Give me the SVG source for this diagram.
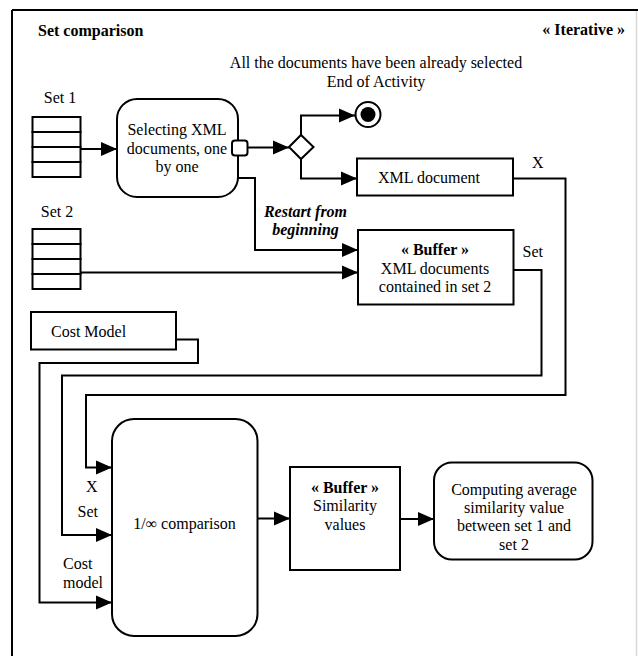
<svg xmlns="http://www.w3.org/2000/svg" width="638" height="656" viewBox="0 0 638 656">
<defs>
<style>
text{font-family:"Liberation Serif","Times New Roman",serif;font-size:16px;fill:#000}
.b{font-weight:bold}
.bi{font-weight:bold;font-style:italic}
.m{text-anchor:middle}
.box{fill:#fff;stroke:#000;stroke-width:2}
.stk{fill:#fff;stroke:#000;stroke-width:2}
.con{fill:none;stroke:#000;stroke-width:2}
</style>
<marker id="arr" markerUnits="userSpaceOnUse" markerWidth="17" markerHeight="16" refX="16" refY="8" orient="auto">
<path d="M0,1 L16,8 L0,15 z" fill="#000"/>
</marker>
</defs>
<rect x="0" y="0" width="638" height="656" fill="#fff"/>
<g id="frame">
<path d="M12,10 H638 M12,10 V656" fill="none" stroke="#000" stroke-width="2"/>
<line x1="636.5" y1="11" x2="636.5" y2="656" stroke="#d8d8d8" stroke-width="1.5"/>
<text class="b" x="38" y="36">Set comparison</text>
<text class="b" x="625" y="35" text-anchor="end">« Iterative »</text>
</g>
<g id="connectors">
<path class="con" d="M80.5,149 H117" marker-end="url(#arr)"/>
<path class="con" d="M247.5,147.5 H289" marker-end="url(#arr)"/>
<path class="con" d="M301,135 V115.5 H355" marker-end="url(#arr)"/>
<path class="con" d="M301,159 V178.5 H357" marker-end="url(#arr)"/>
<path class="con" d="M513,178.5 H565.5 V395 H86 V467.5 H112" marker-end="url(#arr)"/>
<path class="con" d="M238,178 H255 V250 H358" marker-end="url(#arr)"/>
<path class="con" d="M80.5,272.5 H358" stroke-width="1.6" marker-end="url(#arr)"/>
<path class="con" d="M513.5,270 H541.5 V375.5 H62 V535 H112" marker-end="url(#arr)"/>
<path class="con" d="M176,339.5 H198 V363 H39.5 V602.5 H112" marker-end="url(#arr)"/>
<path class="con" d="M257.5,518.5 H290" marker-end="url(#arr)"/>
<path class="con" d="M400,519 H434" marker-end="url(#arr)"/>
<text class="bi m" x="305.5" y="216.5">Restart from</text>
<text class="bi m" x="305.5" y="235">beginning</text>
<text x="532" y="168">X</text>
<text x="522.5" y="256.5">Set</text>
<text x="86" y="491.5">X</text>
<text x="77.5" y="517">Set</text>
<text x="63" y="569">Cost</text>
<text x="63" y="588">model</text>
</g>
<g id="set1">
<text class="m" x="60" y="103">Set 1</text>
<rect class="stk" x="32.5" y="117" width="48" height="15"/>
<rect class="stk" x="32.5" y="132" width="48" height="15"/>
<rect class="stk" x="32.5" y="147" width="48" height="15"/>
<rect class="stk" x="32.5" y="162" width="48" height="15"/>
</g>
<g id="selecting">
<rect class="box" x="117" y="99" width="121" height="98" rx="20"/>
<text class="m" x="177" y="135">Selecting XML</text>
<text class="m" x="177" y="153.5">documents, one</text>
<text class="m" x="177" y="172">by one</text>
<rect class="box" x="232" y="140.5" width="15.5" height="15" rx="3"/>
</g>
<g id="decision">
<polygon class="box" points="289,147 301,135 313.5,147 301,159"/>
</g>
<g id="end">
<text class="m" x="376" y="68">All the documents have been already selected</text>
<text class="m" x="376" y="87">End of Activity</text>
<circle cx="368" cy="114.5" r="12.5" fill="#fff" stroke="#000" stroke-width="2"/>
<circle cx="368" cy="114.5" r="7.5" fill="#000"/>
</g>
<g id="xmldoc">
<rect class="box" x="357" y="158.5" width="156" height="37"/>
<text class="m" x="429" y="182.5">XML document</text>
</g>
<g id="set2">
<text class="m" x="57" y="217">Set 2</text>
<rect class="stk" x="32.5" y="229" width="48" height="15"/>
<rect class="stk" x="32.5" y="244" width="48" height="15"/>
<rect class="stk" x="32.5" y="259" width="48" height="15"/>
<rect class="stk" x="32.5" y="274" width="48" height="15"/>
</g>
<g id="buffer-set2">
<rect class="box" x="358" y="230" width="155.5" height="74.5"/>
<text class="b m" x="435" y="255">« Buffer »</text>
<text class="m" x="435" y="274">XML documents</text>
<text class="m" x="435" y="292">contained in set 2</text>
</g>
<g id="costmodel">
<rect class="box" x="31" y="312" width="145" height="37.5"/>
<text x="51" y="337">Cost Model</text>
</g>
<g id="comparison">
<rect class="box" x="112" y="419" width="145.5" height="217" rx="22"/>
<text class="m" x="184.5" y="529">1/∞ comparison</text>
</g>
<g id="buffer-sim">
<rect class="box" x="290" y="467" width="110" height="103"/>
<text class="b m" x="345" y="492.5">« Buffer »</text>
<text class="m" x="345" y="511">Similarity</text>
<text class="m" x="345" y="529.5">values</text>
</g>
<g id="computing">
<rect class="box" x="434" y="462.5" width="158.5" height="97" rx="18"/>
<text class="m" x="514" y="494.5">Computing average</text>
<text class="m" x="514" y="513">similarity value</text>
<text class="m" x="514" y="531">between set 1 and</text>
<text class="m" x="514" y="549.5">set 2</text>
</g>
</svg>
